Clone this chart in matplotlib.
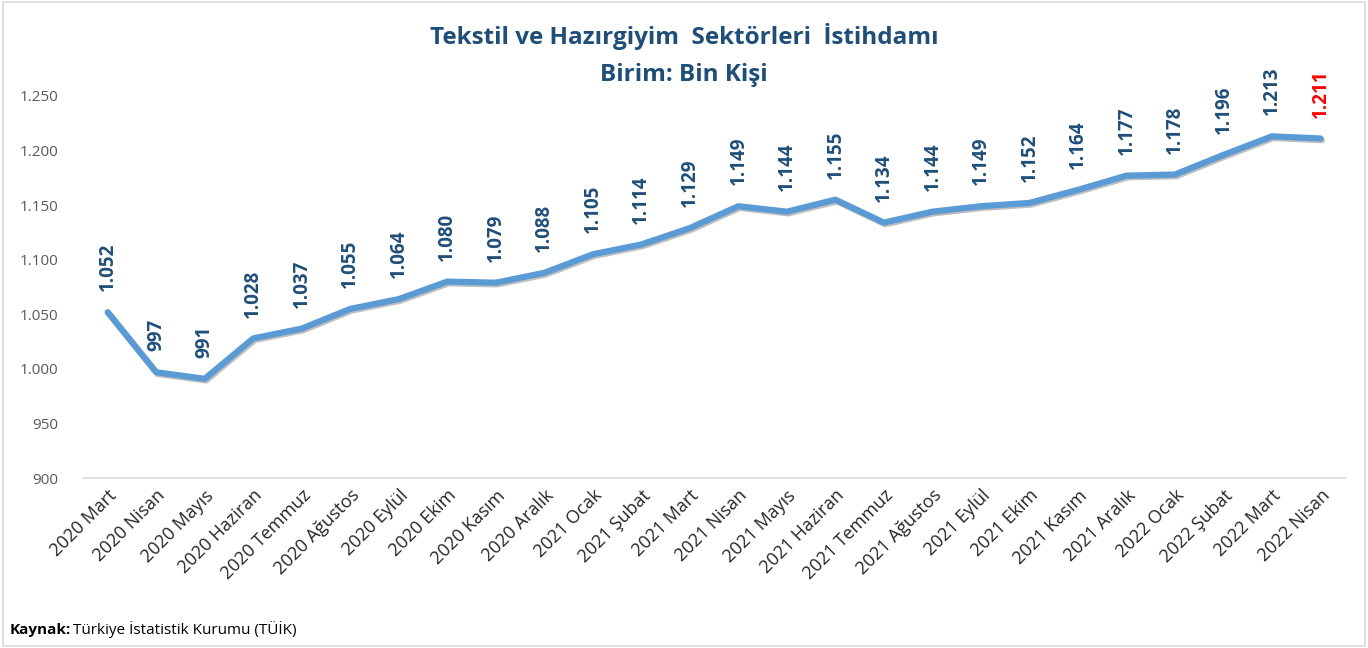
import matplotlib.pyplot as plt
import matplotlib.patheffects as pe
from matplotlib.ticker import FuncFormatter
from matplotlib.patches import Rectangle

plt.rcParams['font.family'] = ['Open Sans', 'DejaVu Sans']

# data
months = ["2020 Mart", "2020 Nisan", "2020 Mayıs", "2020 Haziran", "2020 Temmuz",
          "2020 Ağustos", "2020 Eylül", "2020 Ekim", "2020 Kasım", "2020 Aralık",
          "2021 Ocak", "2021 Şubat", "2021 Mart", "2021 Nisan", "2021 Mayıs",
          "2021 Haziran", "2021 Temmuz", "2021 Ağustos", "2021 Eylül", "2021 Ekim",
          "2021 Kasım", "2021 Aralık", "2022 Ocak", "2022 Şubat", "2022 Mart",
          "2022 Nisan"]
employment = [1052, 997, 991, 1028, 1037, 1055, 1064, 1080, 1079, 1088,
              1105, 1114, 1129, 1149, 1144, 1155, 1134, 1144, 1149, 1152,
              1164, 1177, 1178, 1196, 1213, 1211]
yticks = [900, 950, 1000, 1050, 1100, 1150, 1200, 1250]


def tr_num(v):
    return f"{v:,.0f}".replace(",", ".")


fig = plt.figure(figsize=(13.68, 6.48), dpi=100)
fig.patches.append(Rectangle((0.002, 0.003), 0.996, 0.994, transform=fig.transFigure,
                             fill=False, edgecolor="#d9d9d9", linewidth=1.2))

ax = fig.add_axes([0.061, 0.262, 0.922, 0.59])
x = list(range(len(months)))
ax.plot(x, employment, color="#5b9bd5", linewidth=4.5, solid_capstyle="round",
        solid_joinstyle="round",
        path_effects=[pe.SimpleLineShadow(offset=(1, -1.2), alpha=0.25),
                      pe.Normal()])

for i, v in enumerate(employment):
    col = "#ff0000" if i == len(employment) - 1 else "#1f4e79"
    ax.annotate(tr_num(v), (i, v), xytext=(0, 15), textcoords="offset points",
                rotation=90, ha="center", va="bottom", fontsize=13.5,
                fontweight="bold", color=col, annotation_clip=False)

ax.set_xlim(-0.5, len(months) - 0.5)
ax.set_ylim(900, 1250)
ax.set_yticks(yticks)
ax.yaxis.set_major_formatter(FuncFormatter(lambda v, p: tr_num(v)))
ax.set_xticks(x)
ax.set_xticklabels(months, rotation=45, ha="right", rotation_mode="anchor",
                   fontsize=13, color="#262626")
ax.tick_params(axis="y", length=0, labelsize=11, labelcolor="#595959", pad=18)
ax.tick_params(axis="x", length=0, pad=6)

for s in ["top", "right", "left"]:
    ax.spines[s].set_visible(False)
ax.spines["bottom"].set_color("#d9d9d9")
ax.spines["bottom"].set_linewidth(1.2)

fig.text(0.5, 0.943, "Tekstil ve Hazırgiyim  Sektörleri  İstihdamı", ha="center",
         va="center", fontsize=17.5, fontweight="bold", color="#1f4e79")
fig.text(0.5, 0.884, "Birim: Bin Kişi", ha="center", va="center", fontsize=17.5,
         fontweight="bold", color="#1f4e79")

fig.text(0.007, 0.028, "Kaynak:", ha="left", va="center", fontsize=11,
         fontweight="bold", color="black")
fig.text(0.053, 0.028, "Türkiye İstatistik Kurumu (TÜİK)", ha="left", va="center",
         fontsize=11, color="black")

fig.savefig("out.png", dpi=100)
